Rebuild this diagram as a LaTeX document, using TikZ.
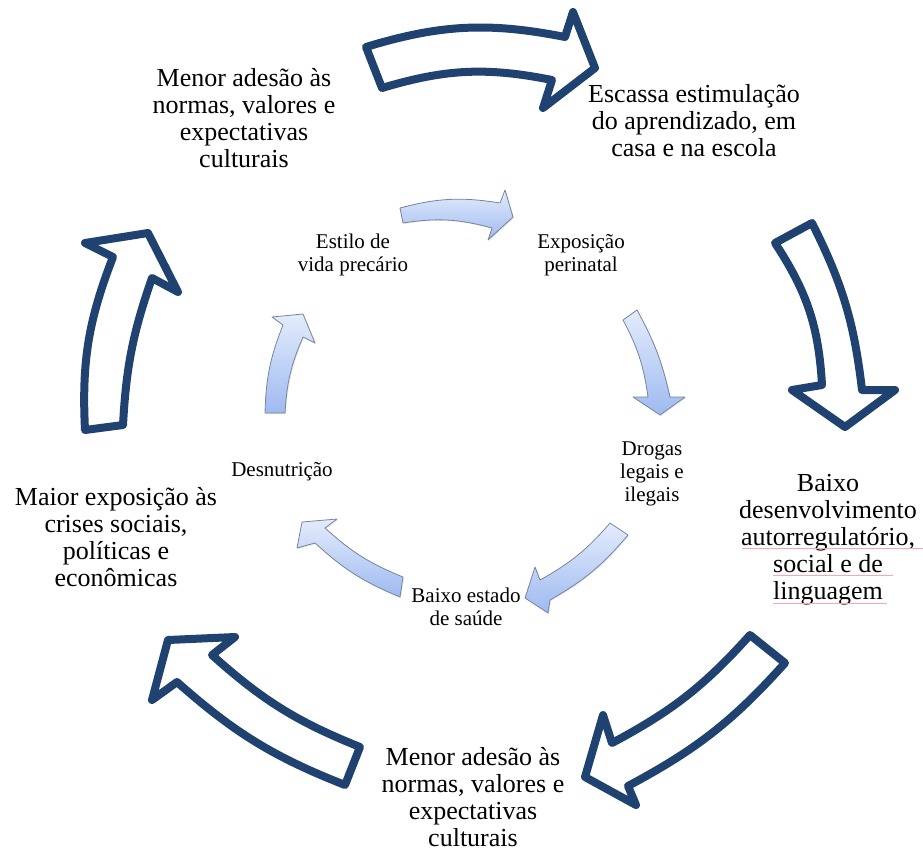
\documentclass[tikz,border=0pt]{standalone}
\usepackage{fontspec}
\setmainfont{Liberation Serif}
\usetikzlibrary{shadows}
\definecolor{navy}{RGB}{31,66,112}
\definecolor{lightblue}{RGB}{228,236,252}
\definecolor{midblue}{RGB}{158,186,240}
\definecolor{edgegrey}{RGB}{118,132,158}
\tikzset{
  bigarrow/.style={draw=navy, line width=8pt, line join=round, fill=white,
    drop shadow={opacity=0.25, shadow xshift=2pt, shadow yshift=-2pt}},
  smallarrow/.style={draw=edgegrey, line width=0.8pt, line join=round,
    top color=lightblue, bottom color=midblue,
    drop shadow={opacity=0.2, shadow xshift=1pt, shadow yshift=-1pt}},
  bigtext/.style={align=center, inner sep=0pt, font=\fontsize{26}{27}\selectfont},
  smalltext/.style={align=center, inner sep=0pt, font=\fontsize{21}{23}\selectfont},
  spellmark/.style={draw=red!35, line width=0.8pt}
}
\begin{document}
\begin{tikzpicture}[x=1pt, y=-1pt]
  \useasboundingbox (0,0) rectangle (923,852);
  % outer cycle
  \draw[bigarrow] (366,47) to[bend left=14] (565,37) -- (573,12) -- (595,68) -- (543,108) -- (552,80) to[bend right=14] (382,88) -- cycle;
  \draw[bigarrow] (775,243) to[bend left=15] (822,385) -- (792,390) -- (845,427) -- (895,390) -- (862,390) to[bend right=10] (812,223) -- cycle;
  \draw[bigarrow] (750,635) to[bend left=10] (612,743) -- (603,715) -- (585,777) -- (636,805) -- (628,786) to[bend right=10] (785,663) -- cycle;
  \draw[bigarrow] (360,747) to[bend left=10] (212,655) -- (235,637) -- (168,640) -- (152,700) -- (177,682) to[bend right=10] (345,785) -- cycle;
  \draw[bigarrow] (123,425) to[bend left=8] (152,278) -- (178,292) -- (148,233) -- (85,243) -- (113,257) to[bend right=12] (85,430) -- cycle;
  % inner cycle
  \draw[smallarrow] (400,208) to[bend left=12] (500,203) -- (505,190) -- (513,217) -- (488,240) -- (492,228) to[bend right=12] (403,223) -- cycle;
  \draw[smallarrow] (623,320) to[bend left=10] (648,397) -- (633,397) -- (660,415) -- (685,397) -- (670,397) to[bend right=8] (637,310) -- cycle;
  \draw[smallarrow] (610,523) to[bend left=10] (540,580) -- (535,567) -- (525,598) -- (548,613) -- (550,600) to[bend right=10] (628,535) -- cycle;
  \draw[smallarrow] (403,577) to[bend left=10] (325,528) -- (337,519) -- (302,522) -- (297,548) -- (315,543) to[bend right=10] (400,597) -- cycle;
  \draw[smallarrow] (285,413) to[bend left=10] (303,337) -- (315,343) -- (303,314) -- (272,317) -- (283,325) to[bend right=10] (265,413) -- cycle;
  % outer labels
  \node[bigtext] (adesaoTop) at (244,118) {Menor adesão às\\normas, valores e\\expectativas\\culturais};
  \node[bigtext] (escassa) at (694,121) {Escassa estimulação\\do aprendizado, em\\casa e na escola};
  \node[bigtext] (baixoDes) at (828,540) {Baixo\\desenvolvimento\\autorregulatório,\\social e de\\linguagem};
  \node[bigtext] (adesaoBot) at (473,797) {Menor adesão às\\normas, valores e\\expectativas\\culturais};
  \node[bigtext] (maior) at (116,537) {Maior exposição às\\crises sociais,\\políticas e\\econômicas};
  % inner labels
  \node[smalltext] (estilo) at (353,255) {Estilo de\\vida precário};
  \node[smalltext] (perinatal) at (581,255) {Exposição\\perinatal};
  \node[smalltext] (drogas) at (652,474) {Drogas\\legais e\\ilegais};
  \node[smalltext] (saude) at (466,607) {Baixo estado\\de saúde};
  \node[smalltext] (desnut) at (282,472) {Desnutrição};
  % spell check marks
  \draw[spellmark] (742,548) -- (923,548);
  \draw[spellmark] (773,575) -- (893,575);
  \draw[spellmark] (773,603) -- (887,603);
\end{tikzpicture}
\end{document}
